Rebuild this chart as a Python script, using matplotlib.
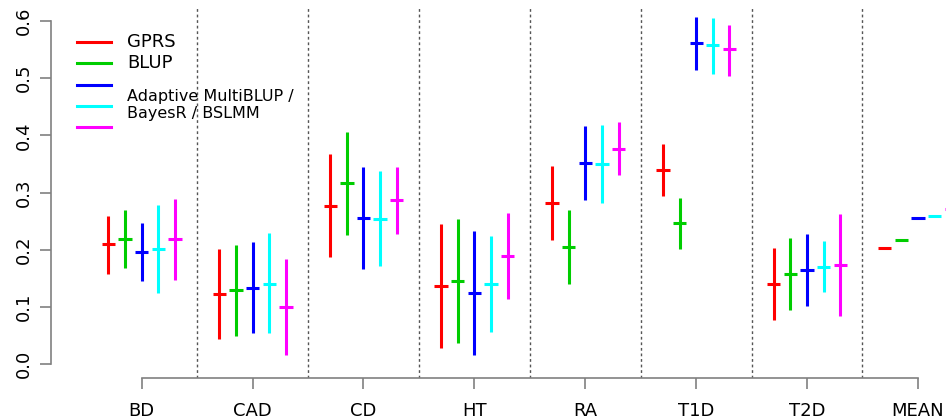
"""Prediction accuracy per trait, point estimate with interval, R-style layout
"""
import matplotlib
matplotlib.use('Agg')
import matplotlib.pyplot as plt

traits = ['BD', 'CAD', 'CD', 'HT', 'RA', 'T1D', 'T2D', 'MEAN']
methods = ['GPRS', 'BLUP', 'MultiBLUP', 'BayesR', 'BSLMM']
colours = ['#FF0000', '#00CD00', '#0000FF', '#00FFFF', '#FF00FF']

# centre, lower, upper per method (rows) and trait (columns); MEAN has no interval
gprs_mid = [0.210, 0.1225, 0.277, 0.1376, 0.282, 0.340, 0.1405, 0.203]
gprs_lo = [0.1585, 0.0436, 0.187, 0.029, 0.2178, 0.294, 0.0772, None]
gprs_hi = [0.2596, 0.2015, 0.367, 0.245, 0.3467, 0.385, 0.203, None]

blup_mid = [0.219, 0.129, 0.316, 0.145, 0.205, 0.246, 0.157, 0.2166]
blup_lo = [0.168, 0.049, 0.225, 0.0377, 0.1405, 0.2009, 0.094, None]
blup_hi = [0.269, 0.208, 0.405, 0.253, 0.269, 0.291, 0.220, None]

multiblup_mid = [0.196, 0.134, 0.256, 0.124, 0.3525, 0.5616, 0.1655, 0.2555]
multiblup_lo = [0.146, 0.055, 0.166, 0.0163, 0.2875, 0.515, 0.1016, None]
multiblup_hi = [0.247, 0.213, 0.3455, 0.232, 0.416, 0.606, 0.228, None]

bayesr_mid = [0.2015, 0.141, 0.2544, 0.1405, 0.3496, 0.5575, 0.1707, 0.259]
bayesr_lo = [0.124, 0.054, 0.171, 0.0563, 0.2817, 0.508, 0.126, None]
bayesr_hi = [0.279, 0.229, 0.337, 0.2247, 0.4175, 0.6057, 0.2155, None]

bslmm_mid = [0.219, 0.1005, 0.287, 0.190, 0.377, 0.550, 0.173, 0.271]
bslmm_lo = [0.148, 0.0157, 0.2277, 0.1144, 0.330, 0.504, 0.084, None]
bslmm_hi = [0.289, 0.1847, 0.345, 0.2648, 0.4233, 0.593, 0.2625, None]

mids = [gprs_mid, blup_mid, multiblup_mid, bayesr_mid, bslmm_mid]
lows = [gprs_lo, blup_lo, multiblup_lo, bayesr_lo, bslmm_lo]
highs = [gprs_hi, blup_hi, multiblup_hi, bayesr_hi, bslmm_hi]

y_ticks = [0.0, 0.1, 0.2, 0.3, 0.4, 0.5, 0.6]

fig = plt.figure(figsize=(9.46, 4.2), dpi=100)
ax = fig.add_axes([51 / 946, 0.1, 1 - 51 / 946, 0.883])
ax.set_xlim(0.182, 8.253)
ax.set_ylim(-0.024, 0.624)

step = 0.15
half = 0.06
lw = 2.2
for k, col in enumerate(colours):
    offset = (k - 2) * step
    for i in range(len(traits)):
        x = i + 1 + offset
        if lows[k][i] is not None:
            ax.vlines(x, lows[k][i], highs[k][i], color=col, lw=lw, clip_on=False)
        ax.hlines(mids[k][i], x - half, x + half, color=col, lw=lw, clip_on=True)

for i in range(len(traits) - 1):
    ax.axvline(i + 1.5, color='#555555', lw=1, ls=(0, (2, 2)))

grey = '#808080'
for side in ['top', 'right']:
    ax.spines[side].set_visible(False)
ax.spines['left'].set_bounds(0, 0.6)
ax.spines['bottom'].set_bounds(1, 8)
for side in ['left', 'bottom']:
    ax.spines[side].set_color(grey)
    ax.spines[side].set_linewidth(1.2)

ax.set_yticks(y_ticks)
ax.set_yticklabels(['%.1f' % v for v in y_ticks], rotation=90, va='center')
ax.set_xticks(range(1, len(traits) + 1))
ax.set_xticklabels(traits)
ax.tick_params(axis='both', colors=grey, labelcolor='black', length=8,
               width=1.2, labelsize=13)
ax.tick_params(axis='y', pad=5)
ax.tick_params(axis='x', pad=9)

# legend drawn by hand: the last three methods share one label
leg_y = [0.906, 0.849, 0.790, 0.733, 0.677]
for col, yy in zip(colours, leg_y):
    ax.plot([0.029, 0.067], [yy, yy], color=col, lw=lw, transform=ax.transAxes,
            clip_on=False)
ax.text(0.085, leg_y[0], 'GPRS', transform=ax.transAxes, va='center', fontsize=13)
ax.text(0.085, leg_y[1], 'BLUP', transform=ax.transAxes, va='center', fontsize=13)
ax.text(0.085, 0.736, 'Adaptive MultiBLUP /\nBayesR / BSLMM', transform=ax.transAxes,
        va='center', fontsize=11.5, linespacing=1.1)

fig.savefig('out.png', dpi=100)
